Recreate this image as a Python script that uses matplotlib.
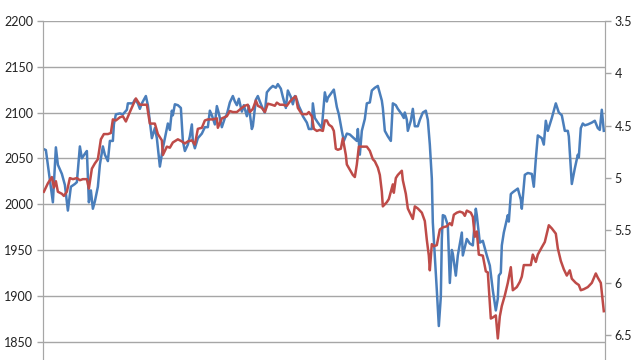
import matplotlib
matplotlib.use("Agg")
import matplotlib.pyplot as plt

# horizontal position of each reading (chart units, left edge = 0)
blue_t = [0, 2, 9, 12, 14, 18, 21, 24, 27, 31,
          33, 36, 38, 41, 43, 45, 47, 49, 51, 54,
          56, 59, 61, 64, 66, 69, 70, 72, 76, 79,
          83, 84, 89, 91, 94, 96, 98, 102, 104, 108,
          111, 113, 116, 119, 121, 124, 126, 128, 129, 131,
          134, 137, 139, 141, 144, 146, 148, 149, 151, 154,
          158, 161, 164, 166, 168, 171, 173, 175, 178, 181,
          183, 186, 189, 191, 193, 195, 198, 200, 203, 205,
          208, 209, 212, 214, 216, 219, 221, 223, 226, 229,
          232, 234, 237, 239, 242, 244, 247, 249, 251, 253,
          255, 258, 259, 263, 265, 268, 269, 271, 274, 278,
          281, 283, 284, 288, 290, 293, 295, 298, 300, 303,
          306, 309, 313, 314, 316, 318, 321, 323, 326, 328,
          331, 334, 338, 339, 341, 344, 347, 349, 352, 354,
          358, 360, 361, 363, 364, 367, 369, 371, 374, 376,
          379, 382, 384, 386, 388, 389, 391, 393, 395, 397,
          398, 399, 401, 404, 406, 408, 409, 412, 414, 418,
          419, 423, 426, 429, 432, 433, 436, 439, 443, 446,
          449, 452, 454, 455, 457, 458, 460, 464, 465, 467,
          469, 474, 477, 478, 481, 484, 488, 490, 492, 494,
          498, 500, 502, 504, 508, 512, 515, 518, 521, 524,
          525, 528, 531, 534, 535, 537, 539, 541, 544, 548,
          551, 554, 556, 558, 560]
blue = [2060, 2059, 2002, 2062, 2043, 2033, 2021, 1993, 2019, 2022,
        2024, 2063, 2050, 2055, 2058, 2002, 2015, 1995, 2003, 2019,
        2043, 2063, 2054, 2047, 2069, 2069, 2087, 2098, 2099, 2098,
        2103, 2110, 2110, 2114, 2110, 2104, 2110, 2118, 2108, 2072,
        2083, 2072, 2041, 2061, 2072, 2088, 2081, 2102, 2097, 2109,
        2108, 2105, 2069, 2058, 2065, 2074, 2087, 2069, 2061, 2072,
        2077, 2084, 2084, 2102, 2097, 2087, 2107, 2099, 2084, 2094,
        2098, 2111, 2118, 2112, 2108, 2115, 2101, 2108, 2096, 2107,
        2082, 2085, 2114, 2118, 2112, 2104, 2100, 2122, 2126, 2129,
        2127, 2131, 2126, 2117, 2105, 2124, 2117, 2109, 2118, 2114,
        2107, 2100, 2096, 2089, 2082, 2082, 2110, 2094, 2089, 2083,
        2122, 2112, 2116, 2122, 2125, 2106, 2098, 2080, 2069, 2077,
        2076, 2073, 2069, 2082, 2054, 2080, 2093, 2110, 2111, 2124,
        2127, 2129, 2113, 2105, 2080, 2074, 2069, 2110, 2108, 2104,
        2098, 2094, 2100, 2092, 2080, 2091, 2104, 2085, 2085, 2092,
        2100, 2102, 2092, 2065, 2028, 1980, 1944, 1906, 1867, 1899,
        1962, 1988, 1987, 1977, 1914, 1950, 1946, 1922, 1944, 1969,
        1944, 1962, 1957, 1955, 1995, 1988, 1958, 1960, 1944, 1933,
        1906, 1884, 1897, 1922, 1925, 1955, 1969, 1988, 1981, 2011,
        2013, 2017, 2005, 1995, 2032, 2034, 2033, 2019, 2049, 2075,
        2072, 2065, 2091, 2080, 2094, 2110, 2100, 2097, 2080, 2080,
        2074, 2022, 2039, 2054, 2051, 2083, 2088, 2086, 2087, 2089,
        2091, 2083, 2081, 2103, 2080]

red_t = [0, 4, 8, 10, 12, 14, 18, 20, 23, 26, 29, 33, 36, 39, 43, 45, 48, 51, 54, 57,
         60, 64, 67, 69, 72, 76, 79, 82, 86, 92, 96, 99, 103, 106, 111, 114, 118, 119, 123, 126,
         129, 134, 138, 141, 144, 148, 151, 154, 158, 161, 164, 169, 173, 174, 178, 183, 186, 189, 193, 198,
         201, 204, 206, 209, 212, 214, 218, 221, 224, 228, 231, 233, 236, 239, 243, 246, 249, 252, 254, 258,
         263, 265, 268, 270, 273, 276, 279, 281, 283, 285, 288, 290, 292, 294, 297, 299, 302, 303, 306, 309,
         311, 313, 315, 319, 323, 326, 329, 331, 334, 336, 338, 339, 343, 345, 349, 350, 352, 354, 358, 359,
         362, 364, 366, 369, 371, 374, 378, 381, 383, 385, 386, 388, 390, 393, 396, 399, 403, 406, 408, 410,
         413, 416, 419, 421, 423, 427, 429, 431, 433, 435, 439, 442, 444, 447, 449, 452, 454, 456, 458, 461,
         464, 467, 469, 473, 476, 478, 480, 484, 487, 489, 492, 494, 498, 501, 505, 508, 512, 514, 517, 520,
         523, 526, 528, 532, 535, 537, 540, 544, 548, 552, 554, 557, 560]
red = [5.13, 5.05, 4.99, 5.09, 5.03, 5.13, 5.15, 5.17, 5.13, 5.00, 5.01, 5.00, 5.02, 5.01, 5.01, 5.10, 4.91, 4.86, 4.82, 4.63,
       4.58, 4.58, 4.57, 4.44, 4.45, 4.42, 4.41, 4.46, 4.37, 4.24, 4.30, 4.30, 4.30, 4.48, 4.48, 4.58, 4.64, 4.78, 4.70, 4.71,
       4.66, 4.63, 4.65, 4.67, 4.65, 4.64, 4.68, 4.53, 4.52, 4.45, 4.44, 4.44, 4.43, 4.52, 4.43, 4.41, 4.36, 4.37, 4.37, 4.33,
       4.31, 4.30, 4.37, 4.34, 4.26, 4.31, 4.33, 4.37, 4.29, 4.30, 4.31, 4.28, 4.30, 4.30, 4.31, 4.27, 4.24, 4.22, 4.33, 4.39,
       4.39, 4.37, 4.41, 4.53, 4.55, 4.54, 4.55, 4.45, 4.45, 4.49, 4.51, 4.55, 4.72, 4.73, 4.72, 4.62, 4.78, 4.87, 4.92, 4.97,
       4.99, 4.87, 4.70, 4.70, 4.70, 4.74, 4.82, 4.84, 4.90, 4.97, 5.13, 5.27, 5.23, 5.20, 5.06, 5.14, 5.00, 4.97, 4.93, 5.02,
       5.15, 5.29, 5.33, 5.39, 5.27, 5.29, 5.33, 5.41, 5.59, 5.74, 5.88, 5.63, 5.65, 5.64, 5.49, 5.47, 5.46, 5.43, 5.45, 5.35,
       5.33, 5.32, 5.33, 5.36, 5.31, 5.33, 5.37, 5.56, 5.51, 5.73, 5.74, 5.89, 5.90, 6.34, 6.33, 6.31, 6.53, 6.32, 6.22, 6.12,
       6.00, 5.85, 6.07, 6.04, 5.99, 5.94, 5.83, 5.83, 5.83, 5.73, 5.80, 5.73, 5.66, 5.61, 5.45, 5.48, 5.53, 5.67, 5.79, 5.87,
       5.93, 5.88, 5.96, 6.00, 6.02, 6.07, 6.06, 6.04, 6.00, 5.91, 5.95, 6.00, 6.27]

left_ticks = [1850, 1900, 1950, 2000, 2050, 2100, 2150, 2200]
right_ticks = [3.5, 4, 4.5, 5, 5.5, 6, 6.5]
right_labels = ["3.5", "4", "4.5", "5", "5.5", "6", "6.5"]

plt.rcParams['font.family'] = ['Lato', 'DejaVu Sans']

fig = plt.figure(figsize=(6.4, 3.6), dpi=100)
ax1 = fig.add_axes([0.067, -0.01, 0.878, 0.952])
ax2 = ax1.twinx()

grid_c = "#a6a6a6"
ax1.plot(blue_t, blue, color="#4a7ebb", lw=1.8, zorder=3)
ax2.plot(red_t, red, color="#be4b48", lw=1.8, zorder=3)

ax1.set_xlim(-1, 561)
ax1.set_ylim(1826, 2200)
ax2.set_ylim(6.77, 3.5)

ax1.set_yticks(left_ticks)
ax1.set_yticklabels([str(v) for v in left_ticks])
ax2.set_yticks(right_ticks)
ax2.set_yticklabels(right_labels)
ax1.set_xticks([])

ax1.grid(axis="y", color=grid_c, lw=1.0)
ax1.set_axisbelow(True)

for ax in (ax1, ax2):
    for s in ("top", "bottom"):
        ax.spines[s].set_visible(False)
    ax.spines["left"].set_color(grid_c)
    ax.spines["right"].set_color(grid_c)
    ax.tick_params(axis="y", colors=grid_c, labelcolor="#222222", labelsize=9, length=4, width=1)

ax1.tick_params(axis="y", pad=3)
ax2.tick_params(axis="y", pad=3)

fig.savefig("out.png", dpi=100)
